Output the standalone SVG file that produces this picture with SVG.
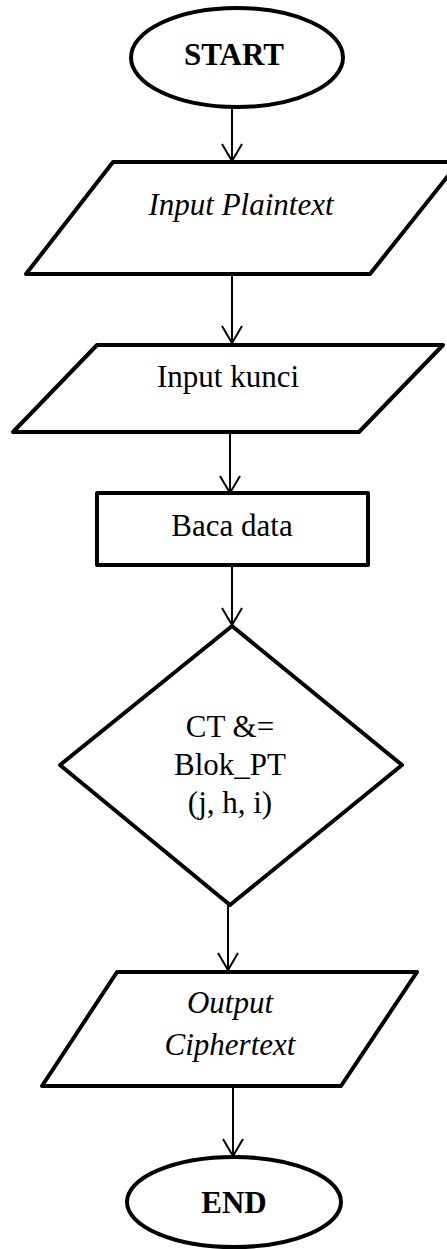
<svg xmlns="http://www.w3.org/2000/svg" width="447" height="1249" viewBox="0 0 447 1249">
<style>
.shape{fill:#fff;stroke:#000;stroke-width:4;stroke-linejoin:round}
.conn{fill:none;stroke:#000;stroke-width:2}
.t{font-family:'Liberation Serif','Times New Roman','DejaVu Serif',serif;font-size:31px;fill:#000;text-anchor:middle}
.b{font-weight:bold}
.i{font-style:italic}
</style>
<defs>
<marker id="arr" markerUnits="userSpaceOnUse" markerWidth="24" markerHeight="24" refX="20" refY="12" orient="auto" viewBox="0 0 24 24">
<path d="M3 2 L20 12 L3 22" fill="none" stroke="#000" stroke-width="2"/>
</marker>
</defs>
<rect width="447" height="1249" fill="#fff"/>
<g id="connectors">
<line class="conn" x1="232" y1="107" x2="232" y2="161" marker-end="url(#arr)"/>
<line class="conn" x1="232" y1="275" x2="232" y2="343" marker-end="url(#arr)"/>
<line class="conn" x1="230" y1="432" x2="230" y2="493" marker-end="url(#arr)"/>
<line class="conn" x1="232" y1="565" x2="232" y2="625" marker-end="url(#arr)"/>
<line class="conn" x1="228" y1="905" x2="228" y2="970" marker-end="url(#arr)"/>
<line class="conn" x1="233" y1="1086" x2="233" y2="1156" marker-end="url(#arr)"/>
</g>
<g id="start">
<ellipse class="shape" cx="237" cy="57.5" rx="106" ry="49.5"/>
<text class="t b" x="234" y="65">START</text>
</g>
<g id="input-plaintext">
<polygon class="shape" points="113,162 459,162 370,274 26,274"/>
<text class="t i" x="241" y="215">Input Plaintext</text>
</g>
<g id="input-kunci">
<polygon class="shape" points="97,345 443,345 359,432 13,432"/>
<text class="t" x="228" y="387">Input kunci</text>
</g>
<g id="baca-data">
<rect class="shape" x="97" y="493" width="271" height="72"/>
<text class="t" x="232" y="536">Baca data</text>
</g>
<g id="decision">
<polygon class="shape" points="232,626 402,765 230,905 60,765"/>
<text class="t" x="230" y="737">CT &amp;=</text>
<text class="t" x="230" y="775">Blok_PT</text>
<text class="t" x="230" y="813">(j, h, i)</text>
</g>
<g id="output-ciphertext">
<polygon class="shape" points="117,972 417,972 341,1086 42,1086"/>
<text class="t i" x="230" y="1013">Output</text>
<text class="t i" x="230" y="1055">Ciphertext</text>
</g>
<g id="end">
<ellipse class="shape" cx="234" cy="1202" rx="107" ry="45"/>
<text class="t b" x="234" y="1213">END</text>
</g>
</svg>
